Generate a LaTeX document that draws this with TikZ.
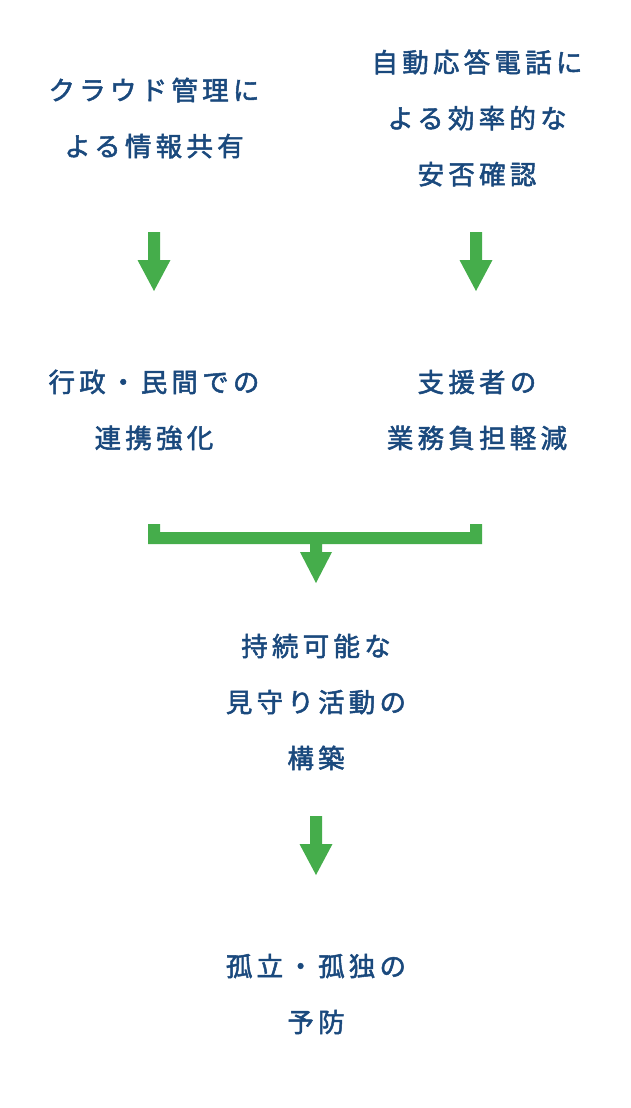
\documentclass[tikz,border=0pt]{standalone}
\usepackage{fontspec}
\newfontfamily\jp[LetterSpace=16,FakeBold=1.9]{Noto Sans CJK JP}
\definecolor{txtblue}{RGB}{26,73,125}
\definecolor{arrgreen}{RGB}{69,173,75}
\begin{document}
\begin{tikzpicture}[x=1pt,y=-1pt,
  lbl/.style={text=txtblue, font=\jp\fontsize{26.5}{56}\selectfont, align=center, inner sep=0pt},
  downarrow/.pic={\fill[arrgreen] (-6,0) -- (6,0) -- (6,28) -- (16.5,28) -- (0,59) -- (-16.5,28) -- (-6,28) -- cycle;}]
\useasboundingbox (0,0) rectangle (630,1108);
\fill[white] (0,0) rectangle (630,1108);
\node[lbl] (cloud) at (154,118) {クラウド管理に\\よる情報共有};
\node[lbl] (phone) at (477,118) {自動応答電話に\\よる効率的な\\安否確認};
\coordinate (a1) at (154,232);
\coordinate (a2) at (476,232);
\pic at (a1) {downarrow};
\pic at (a2) {downarrow};
\node[lbl] (gov) at (154,410) {行政・民間での\\連携強化};
\node[lbl] (sup) at (477,410) {支援者の\\業務負担軽減};
\fill[arrgreen] (148,524) -- (160,524) -- (160,532) -- (470,532) -- (470,524) -- (482,524) -- (482,544) -- (322,544) -- (322,552) -- (332,552) -- (316,583) -- (300,552) -- (310,552) -- (310,544) -- (148,544) -- cycle;
\node[lbl] (sust) at (316,702) {持続可能な\\見守り活動の\\構築};
\coordinate (a3) at (316,816);
\pic at (a3) {downarrow};
\node[lbl] (prev) at (316,994) {孤立・孤独の\\予防};
\end{tikzpicture}
\end{document}
